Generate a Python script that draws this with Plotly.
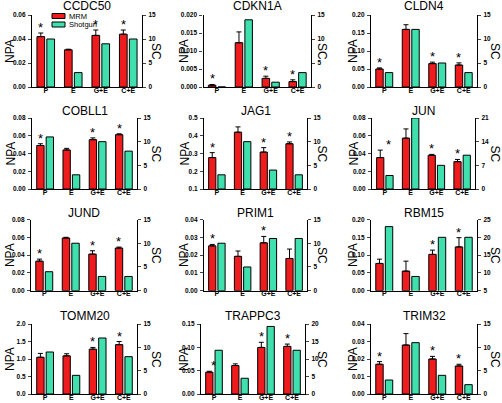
import plotly.graph_objects as go

W, H = 502, 403

categories = ["P", "E", "G+E", "C+E"]
genes = ["CCDC50", "CDKN1A", "CLDN4", "COBLL1", "JAG1", "JUN",
         "JUND", "PRIM1", "RBM15", "TOMM20", "TRAPPC3", "TRIM32"]
series_names = ["MRM", "Shotgun"]

# MRM normalized peak area (left axis, NPA)
mrm_npa = [
    [0.042, 0.031, 0.043, 0.044],      # CCDC50
    [0.0005, 0.0123, 0.0024, 0.0015],  # CDKN1A
    [0.050, 0.160, 0.065, 0.061],      # CLDN4
    [0.049, 0.044, 0.0556, 0.0612],    # COBLL1
    [0.277, 0.420, 0.308, 0.355],      # JAG1
    [0.0354, 0.0573, 0.038, 0.0308],   # JUN
    [0.0332, 0.0592, 0.0411, 0.0479],  # JUND
    [0.0252, 0.0193, 0.0269, 0.0181],  # PRIM1
    [0.0766, 0.055, 0.102, 0.123],     # RBM15
    [1.05, 1.09, 1.28, 1.41],          # TOMM20
    [0.0467, 0.061, 0.0998, 0.102],    # TRAPPC3
    [0.017, 0.028, 0.020, 0.016],      # TRIM32
]
# MRM error (upper)
mrm_err = [
    [0.003, 0.0005, 0.0045, 0.0035],
    [0.0002, 0.003, 0.0006, 0.0005],
    [0.003, 0.013, 0.004, 0.006],
    [0.002, 0.0018, 0.002, 0.001],
    [0.028, 0.030, 0.025, 0.010],
    [0.0084, 0.0104, 0.001, 0.0025],
    [0.0023, 0.0008, 0.0038, 0.0011],
    [0.0008, 0.003, 0.0036, 0.0053],
    [0.012, 0.028, 0.012, 0.026],
    [0.11, 0.06, 0.05, 0.09],
    [0.002, 0.0036, 0.011, 0.005],
    [0.0015, 0.0065, 0.0015, 0.001],
]
# Shotgun spectral counts (right axis, SC)
shotgun_sc = [
    [10, 3, 9, 10],
    [0, 14, 1, 3],
    [3, 12, 5, 3],
    [11, 3, 10, 8],
    [3, 10, 4, 3],
    [4, 21, 7, 10],
    [4, 10, 3, 3],
    [10, 5, 11, 11],
    [23, 9, 20, 20],
    [9, 4, 12, 8],
    [12.5, 4.5, 19.3, 12.5],
    [3, 11, 4, 2],
]
# significance asterisks (1 = shown over MRM bar)
asterisks = [
    [1, 0, 1, 1], [1, 0, 1, 1], [1, 0, 1, 1], [1, 0, 1, 1],
    [1, 0, 1, 1], [1, 0, 1, 1], [1, 0, 1, 1], [1, 0, 1, 0],
    [0, 0, 1, 1], [0, 0, 1, 1], [1, 0, 1, 1], [1, 0, 1, 1],
]

npa_range = [[0, 0.06], [0, 0.02], [0, 0.2], [0, 0.08], [0.1, 0.5], [0, 0.08],
             [0, 0.08], [0, 0.04], [0, 0.2], [0, 2.0], [0, 0.15], [0, 0.04]]
npa_dtick = [0.02, 0.005, 0.05, 0.02, 0.1, 0.02, 0.02, 0.01, 0.05, 0.5, 0.05, 0.01]
npa_format = [".2f", ".3f", ".2f", ".2f", ".1f", ".2f", ".2f", ".2f", ".2f", ".1f", ".2f", ".2f"]
sc_range = [[0, 15], [0, 15], [0, 15], [0, 15], [0, 15], [0, 21],
            [0, 15], [0, 15], [5, 25], [0, 15], [0, 20], [0, 15]]
sc_dtick = [5, 5, 5, 5, 5, 7, 5, 5, 5, 5, 5, 5]

# ---- layout geometry (pixels) ----
panel_x = [(32, 142), (203.5, 311), (371, 477),
           (32, 137), (204, 307), (372, 475),
           (31, 137), (204, 307), (371, 477),
           (32, 137), (201, 305), (371, 477)]
row_y = [(15, 87), (118, 189), (219.5, 290.7), (324, 394)]
title_y = [6, 111, 213.5, 316]
npa_label_x = [10, 184, 353]
sc_label_x = [156, 322, 495]
star_xshift = [[0, 0, 0, 0] for _ in range(12)]
star_xshift[5][0] = 8
star_xshift[10][0] = 4

RED = "#EE1C1C"
TEAL = "#3FE0AE"
COLORS = [RED, TEAL]
FONT = "Arial, Liberation Sans, sans-serif"
RED_OFF, TEAL_OFF, BW = -0.32, 0.04, 0.28


def px_x(p):
    return p / W


def px_y(p):
    return 1 - p / H


fig = go.Figure()
layout = dict(
    template="none",
    width=W, height=H, margin=dict(l=0, r=0, t=0, b=0, pad=0, autoexpand=False),
    paper_bgcolor="white", plot_bgcolor="white",
    font=dict(family=FONT, color="black"),
    showlegend=False,
    annotations=[], shapes=[],
)

for k, gene in enumerate(genes):
    row, col = divmod(k, 3)
    x0, x1 = panel_x[k]
    ytop, ybot = row_y[row]
    xa = "x" if k == 0 else f"x{k+1}"
    yl_i, yr_i = 2 * k + 1, 2 * k + 2
    yl = "y" if yl_i == 1 else f"y{yl_i}"
    yr = f"y{yr_i}"

    fig.add_trace(go.Bar(
        x=categories, y=mrm_npa[k], xaxis=xa, yaxis=yl,
        name=series_names[0],
        marker=dict(color=RED, line=dict(color="black", width=1)),
        width=BW, offset=RED_OFF,
        error_y=dict(type="data", array=mrm_err[k], symmetric=False,
                     arrayminus=[0] * len(categories),
                     color="black", thickness=1, width=2.5),
    ))
    fig.add_trace(go.Bar(
        x=categories, y=shotgun_sc[k], xaxis=xa, yaxis=yr,
        name=series_names[1],
        marker=dict(color=TEAL, line=dict(color="black", width=1)),
        width=BW, offset=TEAL_OFF,
    ))

    xkey = "xaxis" if k == 0 else f"xaxis{k+1}"
    layout[xkey] = dict(
        domain=[px_x(x0), px_x(x1)], anchor=yl, type="category",
        range=[-0.5, 3.5], showline=True, linecolor="black", linewidth=1.2,
        ticks="", showgrid=False, zeroline=False, automargin=False,
        tickfont=dict(size=7, family=FONT, weight="bold"),
        ticklabelstandoff=-4,
    )
    ylkey = "yaxis" if yl_i == 1 else f"yaxis{yl_i}"
    layout[ylkey] = dict(
        domain=[px_y(ybot), px_y(ytop)], anchor=xa, range=npa_range[k],
        tick0=npa_range[k][0], dtick=npa_dtick[k], tickformat=npa_format[k],
        showline=True, linecolor="black", linewidth=1.2, ticks="outside",
        ticklen=3, tickwidth=1, showgrid=False, zeroline=False, automargin=False,
        tickfont=dict(size=6.5, family=FONT, weight="bold"), ticklabelstandoff=1,
    )
    layout[f"yaxis{yr_i}"] = dict(
        overlaying=yl, side="right", anchor=xa, range=sc_range[k],
        tick0=0, dtick=sc_dtick[k],
        showline=True, linecolor="black", linewidth=1.2, ticks="outside",
        ticklen=3, tickwidth=1, showgrid=False, zeroline=False, automargin=False,
        tickfont=dict(size=6.5, family=FONT, weight="bold"), ticklabelstandoff=1,
    )

    # title
    layout["annotations"].append(dict(
        text=gene, xref="paper", yref="paper", x=px_x((x0 + x1) / 2), y=px_y(title_y[row]),
        xanchor="center", yanchor="middle", showarrow=False,
        font=dict(size=12, family=FONT)))
    # axis titles
    layout["annotations"].append(dict(
        text="NPA", xref="paper", yref="paper", x=px_x(npa_label_x[col]),
        y=px_y((ytop + ybot) / 2), xanchor="center", yanchor="middle",
        textangle=-90, showarrow=False, font=dict(size=12, family=FONT)))
    layout["annotations"].append(dict(
        text="SC", xref="paper", yref="paper", x=px_x(sc_label_x[col]),
        y=px_y((ytop + ybot) / 2), xanchor="center", yanchor="middle",
        textangle=90, showarrow=False, font=dict(size=12, family=FONT)))
    # asterisks
    for i, c in enumerate(categories):
        if asterisks[k][i]:
            layout["annotations"].append(dict(
                text="*", xref=xa, yref=yl, x=i + RED_OFF + BW / 2,
                y=mrm_npa[k][i] + mrm_err[k][i], xanchor="center",
                yanchor="bottom", showarrow=False, xshift=star_xshift[k][i],
                yshift=-4, font=dict(size=13, family=FONT)))

# legend (inside the first panel), drawn as key boxes + labels
legend_rows_px = [16, 24.5]
for j, name in enumerate(series_names):
    yc = legend_rows_px[j]
    layout["shapes"].append(dict(
        type="rect", xref="paper", yref="paper",
        x0=px_x(52), x1=px_x(65), y0=px_y(yc - 2.5), y1=px_y(yc + 2.5),
        fillcolor=COLORS[j], line=dict(color="black", width=1)))
    layout["annotations"].append(dict(
        text=name, xref="paper", yref="paper", x=px_x(67), y=px_y(yc),
        xanchor="left", yanchor="middle", showarrow=False,
        font=dict(size=7.5, family=FONT)))

fig.update_layout(**layout)
fig.write_html(
    "out.html",
    config={"displayModeBar": False},
    post_script="document.body.style.margin='0';document.body.style.padding='0';"
                "document.body.style.overflow='hidden';",
)
